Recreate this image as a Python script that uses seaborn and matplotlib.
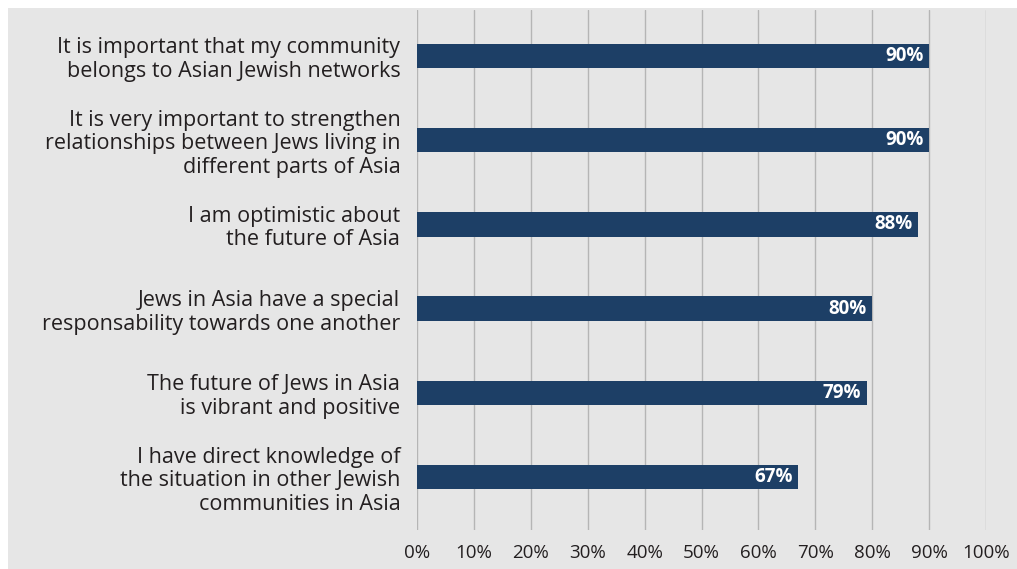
import matplotlib
matplotlib.use("Agg")
import matplotlib.pyplot as plt
import seaborn as sns
import pandas as pd
from matplotlib.patches import Rectangle
from matplotlib.ticker import FuncFormatter

categories = [
    "It is important that my community\nbelongs to Asian Jewish networks",
    "It is very important to strengthen\nrelationships between Jews living in\ndifferent parts of Asia",
    "I am optimistic about\nthe future of Asia",
    "Jews in Asia have a special\nresponsability towards one another",
    "The future of Jews in Asia\nis vibrant and positive",
    "I have direct knowledge of\nthe situation in other Jewish\ncommunities in Asia",
]
values = [90, 90, 88, 80, 79, 67]
x_ticks = [0, 10, 20, 30, 40, 50, 60, 70, 80, 90, 100]

sns.set_theme(style="white")
plt.rcParams['font.family'] = ['Open Sans', 'DejaVu Sans']

BG = "#e6e6e6"
BAR = "#1d3f66"

fig = plt.figure(figsize=(10.17, 5.69), dpi=100)
fig.patch.set_facecolor("white")
fig.add_artist(Rectangle((8 / 1017, 0), 1 - 8 / 1017, 1 - 8 / 569,
                         transform=fig.transFigure, facecolor=BG,
                         edgecolor="none", zorder=0))

left = 417 / 1017
right = 986 / 1017
bottom = 1 - 530 / 569
top = 1 - 10 / 569
ax = fig.add_axes([left, bottom, right - left, top - bottom])
ax.set_facecolor(BG)

df = pd.DataFrame({"cat": categories, "val": values})
sns.barplot(data=df, x="val", y="cat", color=BAR, width=0.29,
            saturation=1, linewidth=0, ax=ax, zorder=3)

ax.set_xlim(0, 100)
ax.set_ylim(5.63, -0.546)
ax.set_xticks(x_ticks)
ax.xaxis.set_major_formatter(FuncFormatter(lambda v, p: f"{int(v)}%"))
ax.grid(axis="x", color="#b5b5b5", linewidth=1.0, zorder=0)
ax.grid(axis="y", visible=False)
for s in ax.spines.values():
    s.set_visible(False)
ax.tick_params(axis="x", length=0, pad=10, labelsize=13.5, colors="#231f20")
ax.tick_params(axis="y", length=0, pad=12, labelsize=15.5, colors="#231f20")
ax.set_xlabel("")
ax.set_ylabel("")
for lab in ax.get_yticklabels():
    lab.set_multialignment("right")
    lab.set_linespacing(1.16)

for cont in ax.containers:
    texts = ax.bar_label(cont, labels=[f"{v}%" for v in values],
                         label_type="edge", padding=-4, color="white",
                         fontweight="bold", fontsize=13.5)
    for t in texts:
        t.set_ha("right")

fig.savefig("out.png", dpi=100, facecolor=fig.get_facecolor())
